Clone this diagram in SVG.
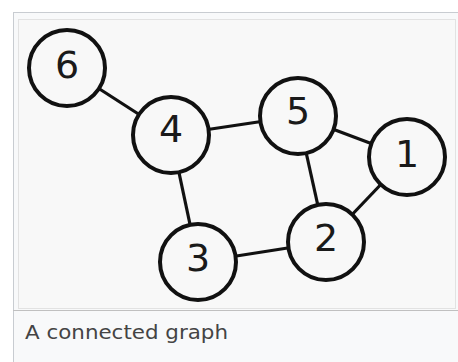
<svg xmlns="http://www.w3.org/2000/svg" width="458" height="362" viewBox="0 0 458 362">
  <style>
    .node circle { fill: #f8f8f8; stroke: #111; stroke-width: 4; }
    .node text { font-family: "DejaVu Sans", sans-serif; font-size: 38px; fill: #1a1a1a; text-anchor: middle; }
    .edges line { stroke: #111; stroke-width: 3.2; }
    .caption { font-family: "DejaVu Sans", sans-serif; font-size: 20px; fill: #444; }
  </style>
  <rect x="0" y="0" width="458" height="362" fill="#ffffff"/>
  <rect x="13.5" y="12.5" width="450" height="360" fill="#f8f9fa" stroke="#c8ccd1" stroke-width="1"/>
  <rect x="18.5" y="19.5" width="437" height="289" fill="#f8f8f8" stroke="#e2e2e2" stroke-width="1"/>
  <line x1="13" y1="310.5" x2="458" y2="310.5" stroke="#c0c0c0" stroke-width="1"/>
  <g id="edges" class="edges">
    <line x1="67" y1="68" x2="171" y2="135"/>
    <line x1="171" y1="135" x2="298" y2="116"/>
    <line x1="171" y1="135" x2="198" y2="262"/>
    <line x1="298" y1="116" x2="407" y2="157"/>
    <line x1="298" y1="116" x2="326" y2="242"/>
    <line x1="407" y1="157" x2="326" y2="242"/>
    <line x1="198" y1="262" x2="326" y2="242"/>
  </g>
  <g id="node6" class="node"><circle cx="67" cy="68" r="38"/><text x="67" y="78">6</text></g>
  <g id="node4" class="node"><circle cx="171" cy="135" r="38"/><text x="171" y="142">4</text></g>
  <g id="node5" class="node"><circle cx="298" cy="116" r="38"/><text x="298" y="124">5</text></g>
  <g id="node1" class="node"><circle cx="407" cy="157" r="38"/><text x="407" y="167">1</text></g>
  <g id="node2" class="node"><circle cx="326" cy="242" r="38"/><text x="326" y="251">2</text></g>
  <g id="node3" class="node"><circle cx="198" cy="262" r="38"/><text x="198" y="271">3</text></g>
  <text class="caption" x="25" y="339" textLength="203" lengthAdjust="spacingAndGlyphs">A connected graph</text>
</svg>
